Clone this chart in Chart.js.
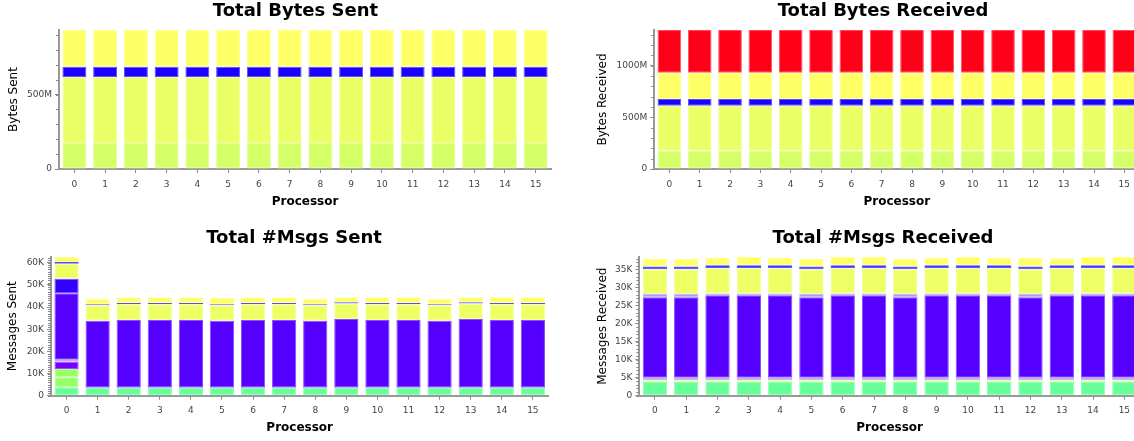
<!DOCTYPE html>
<html>
<head>
<meta charset="utf-8">
<script src="https://cdn.jsdelivr.net/npm/chart.js@4"></script>
<style>
  body { margin: 0; background: #fff; overflow: hidden; width: 1134px; height: 441px; position: relative; }
  canvas { position: absolute; }
</style>
</head>
<body>
<canvas id="bytesSent" style="left:0px;top:0px"></canvas>
<canvas id="bytesRecv" style="left:567px;top:0px"></canvas>
<canvas id="msgsSent" style="left:0px;top:226px"></canvas>
<canvas id="msgsRecv" style="left:567px;top:226px"></canvas>
<script>
const processors = ["0", "1", "2", "3", "4", "5", "6", "7", "8", "9", "10", "11", "12", "13", "14", "15"];

// Total Bytes Sent, in M, bottom to top
const bytesSentA = [175, 175, 175, 175, 175, 175, 175, 175, 175, 175, 175, 175, 175, 175, 175, 175];
const bytesSentB = [442, 442, 442, 442, 442, 442, 442, 442, 442, 442, 442, 442, 442, 442, 442, 442];
const bytesSentC = [70, 70, 70, 70, 70, 70, 70, 70, 70, 70, 70, 70, 70, 70, 70, 70];
const bytesSentD = [246, 246, 246, 246, 246, 246, 246, 246, 246, 246, 246, 246, 246, 246, 246, 246];

// Total Bytes Received, in M
const bytesRecvA = [177, 177, 177, 177, 177, 177, 177, 177, 177, 177, 177, 177, 177, 177, 177, 177];
const bytesRecvB = [435, 435, 435, 435, 435, 435, 435, 435, 435, 435, 435, 435, 435, 435, 435, 435];
const bytesRecvC = [65, 65, 65, 65, 65, 65, 65, 65, 65, 65, 65, 65, 65, 65, 65, 65];
const bytesRecvD = [254, 254, 254, 254, 254, 254, 254, 254, 254, 254, 254, 254, 254, 254, 254, 254];
const bytesRecvE = [413, 413, 413, 413, 413, 413, 413, 413, 413, 413, 413, 413, 413, 413, 413, 413];

// Total #Msgs Sent, in K
const msgsSentMint = [3.8, 3.5, 3.5, 3.5, 3.5, 3.5, 3.5, 3.5, 3.5, 3.5, 3.5, 3.5, 3.5, 3.5, 3.5, 3.5];
const msgsSentLime1 = [4.5, 0, 0, 0, 0, 0, 0, 0, 0, 0, 0, 0, 0, 0, 0, 0];
const msgsSentLime2 = [3.7, 0, 0, 0, 0, 0, 0, 0, 0, 0, 0, 0, 0, 0, 0, 0];
const msgsSentPurple = [3.3, 0, 0, 0, 0, 0, 0, 0, 0, 0, 0, 0, 0, 0, 0, 0];
const msgsSentLav = [0.9, 0.4, 0.4, 0.4, 0.4, 0.4, 0.4, 0.4, 0.4, 0.4, 0.4, 0.4, 0.4, 0.4, 0.4, 0.4];
const msgsSentViolet = [30.0, 29.9, 30.3, 30.3, 30.3, 29.9, 30.3, 30.3, 29.9, 30.7, 30.3, 30.3, 29.9, 30.7, 30.3, 30.3];
const msgsSentIndigo = [6.6, 0, 0, 0, 0, 0, 0, 0, 0, 0, 0, 0, 0, 0, 0, 0];
const msgsSentLeaf = [6.7, 7.0, 7.1, 7.1, 7.1, 7.0, 7.1, 7.1, 7.0, 7.0, 7.1, 7.1, 7.0, 7.0, 7.1, 7.1];
const msgsSentBlue = [0.8, 0.5, 0.5, 0.5, 0.5, 0.5, 0.5, 0.5, 0.5, 0.5, 0.5, 0.5, 0.5, 0.5, 0.5, 0.5];
const msgsSentYellow = [2.4, 2.3, 2.6, 2.6, 2.6, 2.8, 2.6, 2.6, 2.3, 2.3, 2.6, 2.6, 2.3, 2.3, 2.6, 2.6];

// Total #Msgs Received, in K
const msgsRecvMint = [3.8, 3.8, 3.8, 3.8, 3.8, 3.8, 3.8, 3.8, 3.8, 3.8, 3.8, 3.8, 3.8, 3.8, 3.8, 3.8];
const msgsRecvLime = [0.5, 0.5, 0.5, 0.5, 0.5, 0.5, 0.5, 0.5, 0.5, 0.5, 0.5, 0.5, 0.5, 0.5, 0.5, 0.5];
const msgsRecvLav1 = [0.7, 0.7, 0.7, 0.7, 0.7, 0.7, 0.7, 0.7, 0.7, 0.7, 0.7, 0.7, 0.7, 0.7, 0.7, 0.7];
const msgsRecvViolet = [22.3, 22.3, 22.8, 22.8, 22.8, 22.3, 22.8, 22.8, 22.3, 22.8, 22.8, 22.8, 22.3, 22.8, 22.8, 22.8];
const msgsRecvLav2 = [0.9, 0.9, 0.5, 0.5, 0.5, 0.9, 0.5, 0.5, 0.9, 0.5, 0.5, 0.5, 0.9, 0.5, 0.5, 0.5];
const msgsRecvLeaf = [6.8, 6.8, 7.0, 7.0, 7.0, 6.8, 7.0, 7.0, 6.8, 7.0, 7.0, 7.0, 6.8, 7.0, 7.0, 7.0];
const msgsRecvBlue = [0.8, 0.8, 0.8, 0.8, 0.8, 0.8, 0.8, 0.8, 0.8, 0.8, 0.8, 0.8, 0.8, 0.8, 0.8, 0.8];
const msgsRecvYellow = [2.2, 2.1, 2.1, 2.3, 2.1, 2.2, 2.3, 2.3, 2.1, 2.1, 2.3, 2.1, 2.4, 2.0, 2.3, 2.3];

Chart.defaults.font.family = "'DejaVu Sans', sans-serif";
Chart.defaults.color = "#333";

// small unlabeled ticks on the value axis
const minorTicks = {
  id: "minorTicks",
  afterDraw(chart, args, opts) {
    const y = chart.scales.y;
    const ctx = chart.ctx;
    ctx.save();
    ctx.strokeStyle = "#888";
    ctx.lineWidth = 1;
    for (let i = 0; i * opts.step <= y.max + 1e-9; i++) {
      const py = Math.round(y.getPixelForValue(i * opts.step)) + 0.5;
      ctx.beginPath();
      ctx.moveTo(y.right - 3, py);
      ctx.lineTo(y.right, py);
      ctx.stroke();
    }
    ctx.restore();
  },
};

// lighter edge of each segment, like the original renderer
function tint(hex, amount) {
  const n = parseInt(hex.slice(1), 16);
  const mix = (c) => Math.round(c + (255 - c) * amount);
  return `rgb(${mix(n >> 16)}, ${mix((n >> 8) & 255)}, ${mix(n & 255)})`;
}

function makeDatasets(series) {
  return series.map(([data, color]) => ({
    data: data,
    backgroundColor: color,
    borderColor: tint(color, 0.3),
    borderWidth: 1,
    borderSkipped: false,
    categoryPercentage: 1,
    barPercentage: 0.78,
  }));
}

function plotStacked(canvasId, box, title, yLabel, unit, yMax, majors, minorStep, series) {
  const canvas = document.getElementById(canvasId);
  canvas.width = box.width;
  canvas.height = box.height;

  return new Chart(canvas.getContext("2d"), {
    type: "bar",
    data: { labels: processors, datasets: makeDatasets(series) },
    plugins: [minorTicks],
    options: {
      responsive: false,
      animation: false,
      layout: { padding: 0 },
      scales: {
        x: {
          stacked: true,
          grid: { drawOnChartArea: false, offset: false, tickLength: 4, color: "#888" },
          border: { color: "#999", width: 2 },
          ticks: { font: { size: 9 }, color: "#444", padding: 6 },
          title: {
            display: true,
            text: "Processor",
            color: "#000",
            font: { size: 12, weight: "bold" },
            padding: { top: 0, bottom: box.xTitlePad },
          },
          afterFit: (scale) => { scale.height = box.xHeight; },
        },
        y: {
          stacked: true,
          min: 0,
          max: yMax,
          grid: { drawOnChartArea: false, tickLength: 4, color: "#888" },
          border: { color: "#999", width: 2 },
          ticks: {
            font: { size: 9 },
            color: "#444",
            padding: 3,
            callback: (value) => (value === 0 ? "0" : value + unit),
          },
          afterBuildTicks: (scale) => { scale.ticks = majors.map((v) => ({ value: v })); },
          title: {
            display: true,
            text: yLabel,
            color: "#000",
            font: { size: 12 },
            padding: { top: box.yTitlePad, bottom: 0 },
          },
          afterFit: (scale) => { scale.width = box.yWidth; },
        },
        // empty room right of the plot, so the title centres like the original
        spacer: {
          type: "linear",
          axis: "y",
          position: "right",
          display: true,
          grid: { display: false },
          border: { display: false },
          ticks: { display: false },
          afterFit: (scale) => { scale.width = box.rightGap; },
        },
      },
      plugins: {
        legend: { display: false },
        tooltip: { enabled: false },
        minorTicks: { step: minorStep },
        title: {
          display: true,
          text: title,
          color: "#000",
          font: { size: 18, weight: "bold" },
          padding: { top: box.titleTop, bottom: box.titleBottom },
        },
      },
    },
  });
}

plotStacked(
  "bytesSent",
  { width: 591, height: 215, yWidth: 59, rightGap: 40, xHeight: 46, xTitlePad: 5.8, yTitlePad: 6.8, titleTop: 0.7, titleBottom: 7.7 },
  "Total Bytes Sent", "Bytes Sent", "M", 933, [0, 500], 100,
  [[bytesSentA, "#d4ff66"], [bytesSentB, "#eaff66"], [bytesSentC, "#1a00ff"], [bytesSentD, "#ffff66"]]
);

plotStacked(
  "bytesRecv",
  { width: 632, height: 215, yWidth: 87.2, rightGap: 59.5, xHeight: 46, xTitlePad: 5.8, yTitlePad: 29.1, titleTop: 0.7, titleBottom: 7.7 },
  "Total Bytes Received", "Bytes Received", "M", 1344, [0, 500, 1000], 100,
  [[bytesRecvA, "#d4ff66"], [bytesRecvB, "#eaff66"], [bytesRecvC, "#1a00ff"], [bytesRecvD, "#ffff66"], [bytesRecvE, "#ff0019"]]
);

plotStacked(
  "msgsSent",
  { width: 588, height: 215, yWidth: 51, rightGap: 39.6, xHeight: 45.3, xTitlePad: 5.5, yTitlePad: 6.1, titleTop: 1.5, titleBottom: 7.6 },
  "Total #Msgs Sent", "Messages Sent", "K", 62.7, [0, 10, 20, 30, 40, 50, 60], 1,
  [
    [msgsSentMint, "#66ff99"], [msgsSentLime1, "#99ff66"], [msgsSentLime2, "#99ff66"],
    [msgsSentPurple, "#7700ff"], [msgsSentLav, "#aa88ff"], [msgsSentViolet, "#5500ff"],
    [msgsSentIndigo, "#3300ff"], [msgsSentLeaf, "#eeff66"], [msgsSentBlue, "#1100ff"],
    [msgsSentYellow, "#ffff66"],
  ]
);

plotStacked(
  "msgsRecv",
  { width: 632, height: 215, yWidth: 72.3, rightGap: 59, xHeight: 45.3, xTitlePad: 5.5, yTitlePad: 29.1, titleTop: 1.5, titleBottom: 7.6 },
  "Total #Msgs Received", "Messages Received", "K", 38.5, [0, 5, 10, 15, 20, 25, 30, 35], 1,
  [
    [msgsRecvMint, "#66ff99"], [msgsRecvLime, "#ddff77"], [msgsRecvLav1, "#aa88ee"],
    [msgsRecvViolet, "#5500ff"], [msgsRecvLav2, "#aa99ff"], [msgsRecvLeaf, "#eeff66"],
    [msgsRecvBlue, "#1100ff"], [msgsRecvYellow, "#ffff66"],
  ]
);
</script>
</body>
</html>
